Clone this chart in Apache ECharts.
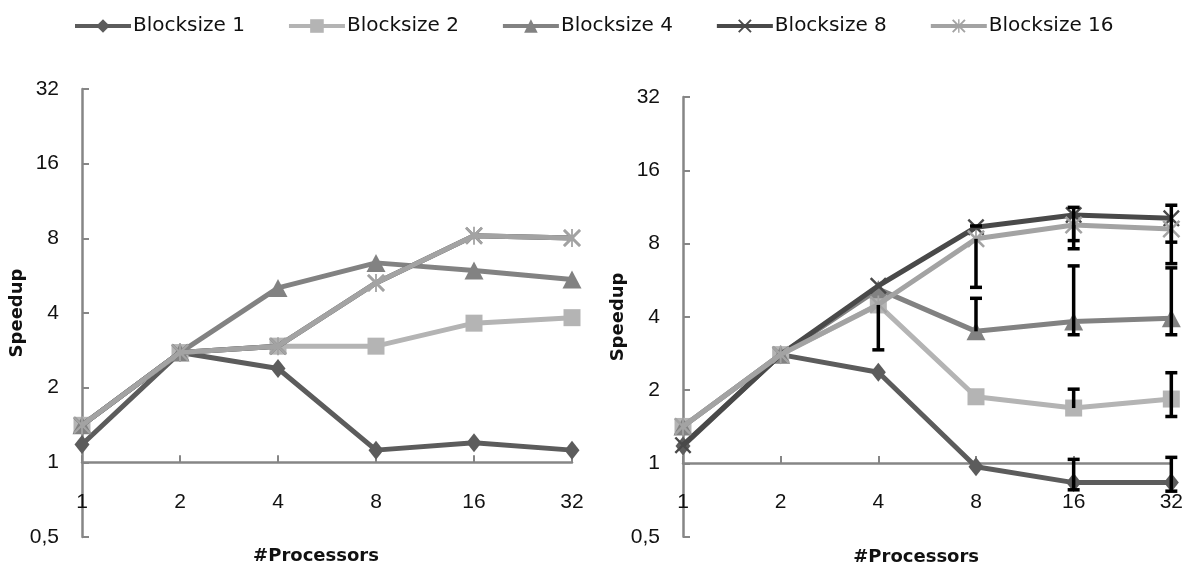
<!DOCTYPE html>
<html>
<head>
<meta charset="utf-8">
<script src="https://cdn.jsdelivr.net/npm/echarts@6/dist/echarts.min.js"></script>
<style>
html,body{margin:0;padding:0;background:#fff;}
#chart{width:1186px;height:571px;}
</style>
</head>
<body>
<div id="chart"></div>
<script>
// ---- data ----
const categories = ['1', '2', '4', '8', '16', '32'];
const seriesNames = ['Blocksize 1', 'Blocksize 2', 'Blocksize 4', 'Blocksize 8', 'Blocksize 16'];

// left chart
const leftBs1  = [1.18, 2.77, 2.39, 1.12, 1.20, 1.12];
const leftBs2  = [1.41, 2.77, 2.94, 2.94, 3.64, 3.83];
const leftBs4  = [1.41, 2.77, 5.05, 6.37, 5.94, 5.46];
const leftBs8  = [1.41, 2.77, 2.94, 5.29, 8.20, 8.03];
const leftBs16 = [1.41, 2.77, 2.94, 5.29, 8.20, 8.03];

// right chart
const rightBs1  = [1.18, 2.80, 2.37, 0.97, 0.835, 0.835];
const rightBs2  = [1.42, 2.80, 4.48, 1.88, 1.69, 1.84];
const rightBs4  = [1.42, 2.80, 5.20, 3.49, 3.83, 3.95];
const rightBs8  = [1.19, 2.80, 5.37, 9.34, 10.48, 10.16];
const rightBs16 = [1.42, 2.80, 4.50, 8.37, 9.54, 9.19];

// right chart error bars (lower / upper end, null = not drawn)
const errLowBs1  = [null, null, null, null, 0.78, 0.77];
const errHighBs1 = [null, null, null, null, 1.04, 1.06];
const errLowBs2  = [null, null, 2.93, null, null, 1.56];
const errHighBs2 = [null, null, null, null, 2.02, 2.36];
const errLowBs4  = [null, null, null, null, 3.38, 3.38];
const errHighBs4 = [null, null, null, 4.77, 6.48, 6.36];
const errLowBs8  = [null, null, null, null, 8.23, 8.11];
const errHighBs8 = [null, null, null, 9.45, 11.27, 11.5];
const errLowBs16 = [null, null, null, 5.29, 7.62, 6.62];
const errHighBs16= [null, null, null, null, null, null];

const yTicks = [0.5, 1, 2, 4, 8, 16, 32];

// ---- styles ----
const FONT = 'DejaVu Sans';
const TICKFONT = 'Liberation Sans';
const colors = ['#5c5c5c', '#b4b4b4', '#828282', '#494949', '#a3a3a3'];
const xPath = 'path://M0,2 L2,0 L10,8 L18,0 L20,2 L12,10 L20,18 L18,20 L10,12 L2,20 L0,18 L8,10 Z';
const starPath = 'path://M0,2 L2,0 L10,8 L18,0 L20,2 L12,10 L20,18 L18,20 L10,12 L2,20 L0,18 L8,10 Z M9,0 L11,0 L11,20 L9,20 Z';
const symbols = ['diamond', 'rect', 'triangle', xPath, starPath];
const symbolSizes = [[15, 19], 17, [19, 18], 17, 18];

const grids = [
  {left: 82, top: 89, width: 490, height: 448},
  {left: 683, top: 97, width: 490, height: 443}
];

function xAxisFor(i) {
  return {
    type: 'category', gridIndex: i, data: categories, boundaryGap: false,
    position: 'bottom', offset: -grids[i].height / 6,
    axisLine: {lineStyle: {color: '#868686', width: 2.5}},
    axisTick: {inside: true, length: 7, lineStyle: {color: '#868686', width: 2}},
    axisLabel: {color: '#111', fontFamily: TICKFONT, fontSize: 21, margin: 29},
    name: '#Processors', nameLocation: 'middle', nameGap: 85,
    nameTextStyle: {color: '#111', fontFamily: FONT, fontSize: 18, fontWeight: 'bold', padding: [0, 22, 0, 0]},
    splitLine: {show: false}
  };
}
function yAxisFor(i) {
  return {
    type: 'log', logBase: 2, gridIndex: i, min: yTicks[0], max: yTicks[yTicks.length - 1],
    splitNumber: yTicks.length - 1,
    axisLine: {show: true, lineStyle: {color: '#868686', width: 2.5}},
    axisTick: {show: true, inside: true, length: 7, lineStyle: {color: '#868686', width: 2}},
    axisLabel: {color: '#111', fontFamily: TICKFONT, fontSize: 21, margin: 23,
      formatter: v => String(+v.toFixed(3)).replace('.', ',')},
    splitLine: {show: false},
    name: 'Speedup', nameLocation: 'middle', nameRotate: 90, nameGap: 50,
    nameTextStyle: {color: '#111', fontFamily: FONT, fontSize: 18, fontWeight: 'bold'}
  };
}

const leftData = [leftBs1, leftBs2, leftBs4, leftBs8, leftBs16];
const rightData = [rightBs1, rightBs2, rightBs4, rightBs8, rightBs16];
const errLow = [errLowBs1, errLowBs2, errLowBs4, errLowBs8, errLowBs16];
const errHigh = [errHighBs1, errHighBs2, errHighBs4, errHighBs8, errHighBs16];

const series = [];
[leftData, rightData].forEach((set, g) => {
  set.forEach((vals, k) => {
    series.push({
      name: seriesNames[k], type: 'line', xAxisIndex: g, yAxisIndex: g,
      data: vals, symbol: symbols[k], symbolSize: symbolSizes[k], showSymbol: true,
      itemStyle: {color: colors[k]},
      lineStyle: {color: colors[k], width: 5},
      z: 2 + k, animation: false
    });
  });
});

// error bars on right chart
errLow.forEach((lows, k) => {
  const data = [];
  lows.forEach((lo, i) => {
    const hi = errHigh[k][i];
    if (lo == null && hi == null) return;
    const v = rightData[k][i];
    data.push([i, lo == null ? v : lo, hi == null ? v : hi, lo == null ? 0 : 1, hi == null ? 0 : 1]);
  });
  series.push({
    type: 'custom', name: seriesNames[k], xAxisIndex: 1, yAxisIndex: 1, z: 20, animation: false,
    data: data,
    encode: {x: 0, y: [1, 2]},
    renderItem: function (params, api) {
      const x = api.value(0);
      const lo = api.coord([x, api.value(1)]);
      const hi = api.coord([x, api.value(2)]);
      const cw = 6;
      const st = {stroke: '#000', lineWidth: 3.5};
      const children = [{type: 'line', shape: {x1: lo[0], y1: lo[1], x2: hi[0], y2: hi[1]}, style: st}];
      if (api.value(3)) children.push({type: 'line', shape: {x1: lo[0] - cw, y1: lo[1], x2: lo[0] + cw, y2: lo[1]}, style: st});
      if (api.value(4)) children.push({type: 'line', shape: {x1: hi[0] - cw, y1: hi[1], x2: hi[0] + cw, y2: hi[1]}, style: st});
      return {type: 'group', children: children};
    }
  });
});

const chart = echarts.init(document.getElementById('chart'), null, {renderer: 'canvas'});
chart.setOption({
  backgroundColor: '#fff',
  animation: false,
  legend: {
    data: seriesNames, left: 68, top: 11, itemWidth: 56, itemHeight: 17, itemGap: 42,
    lineStyle: {width: 4},
    textStyle: {color: '#111', fontFamily: FONT, fontSize: 20, padding: [0, 0, 0, -3]}
  },
  grid: grids,
  xAxis: [xAxisFor(0), xAxisFor(1)],
  yAxis: [yAxisFor(0), yAxisFor(1)],
  series: series
});
</script>
</body>
</html>
